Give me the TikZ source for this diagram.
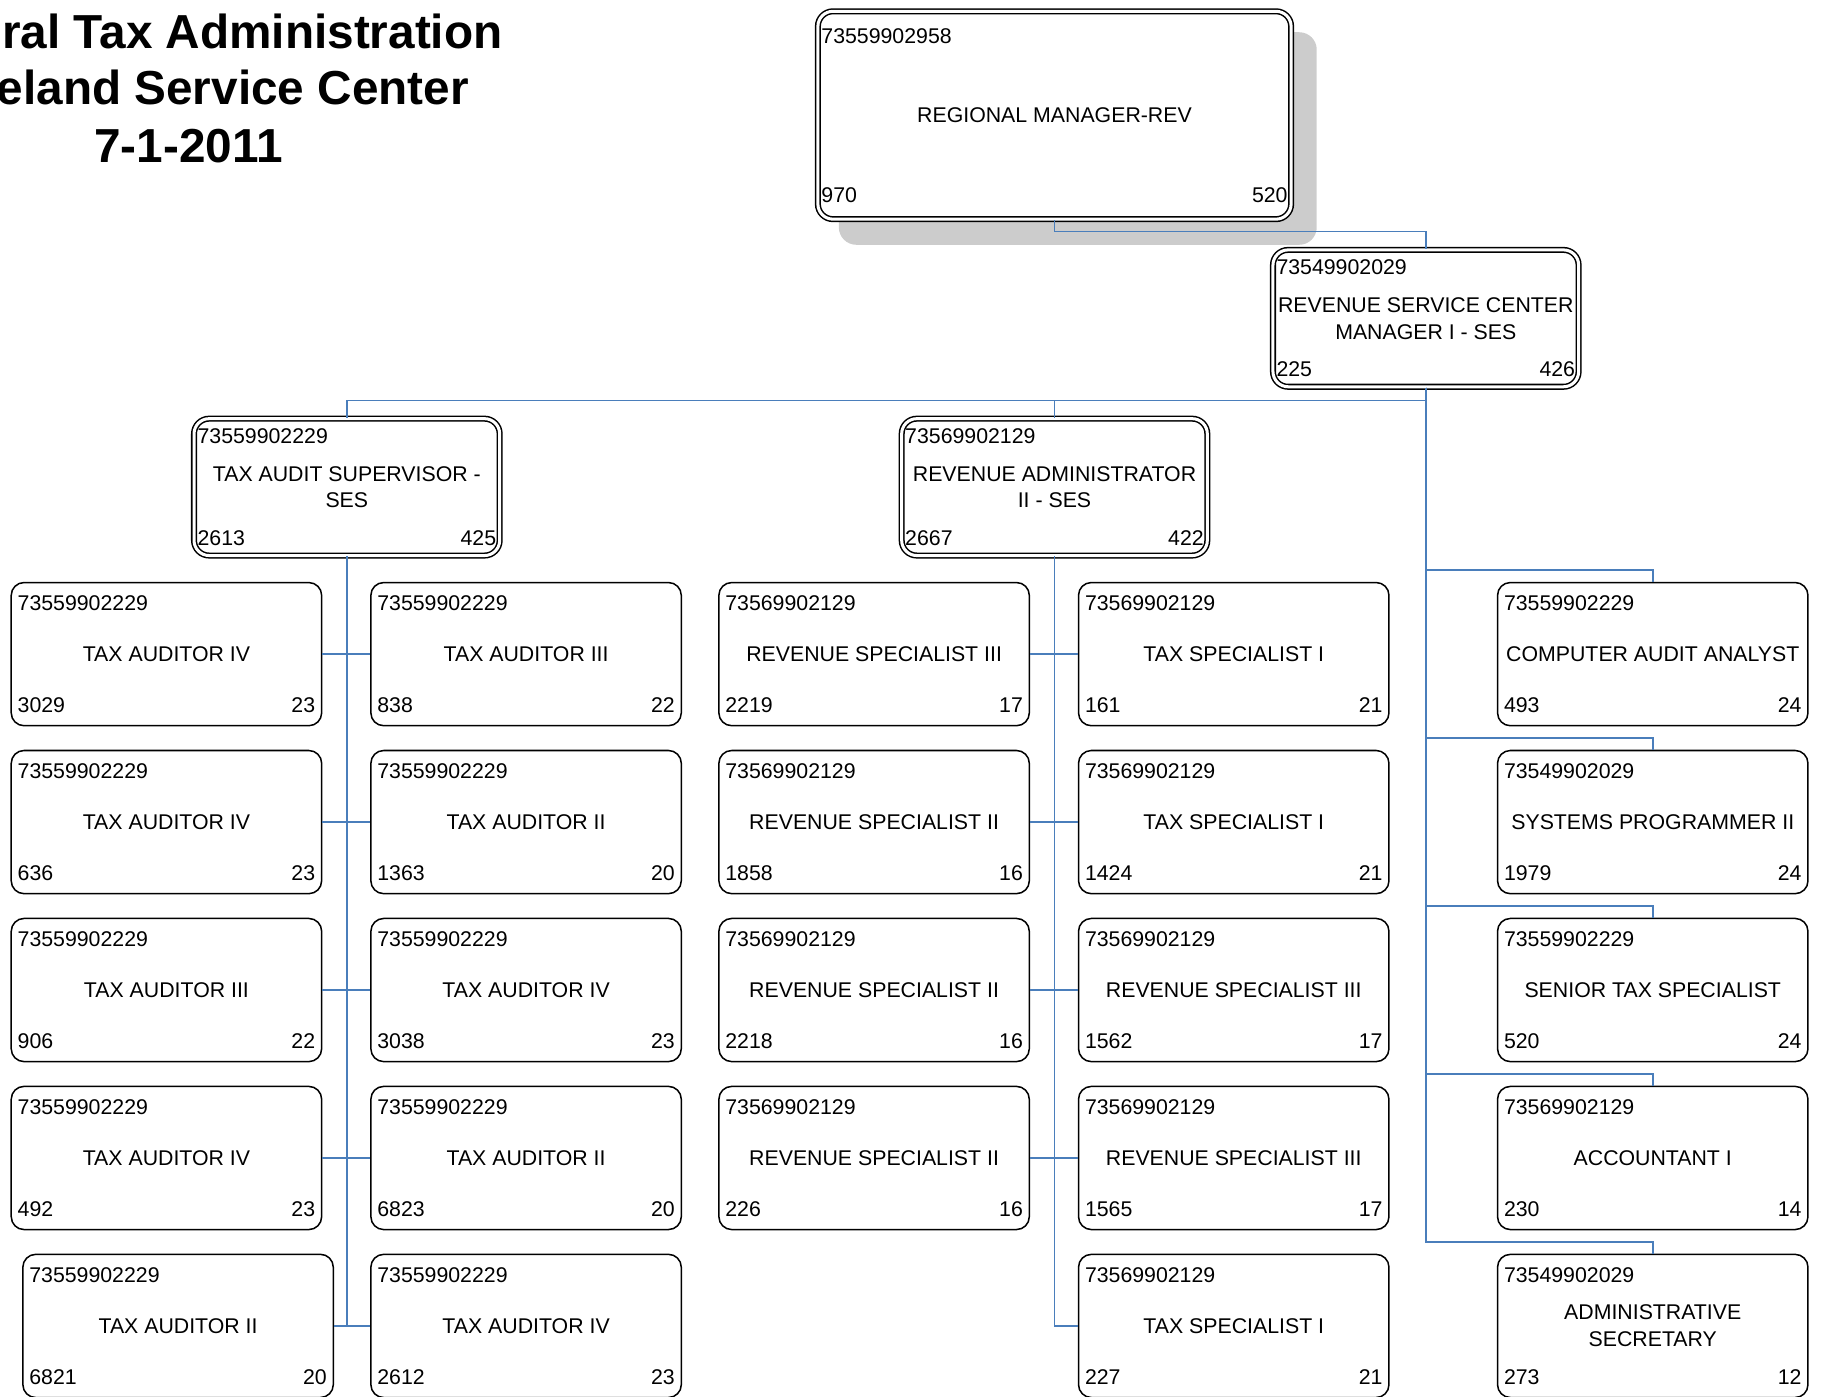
\documentclass[tikz,border=0pt]{standalone}
\usepackage{fontspec}
\setmainfont{Liberation Sans}
\usepackage{xcolor}
\usepackage{tikz}
\usetikzlibrary{positioning,shadows}

\definecolor{linkblue}{RGB}{74,126,187}
\definecolor{shadowgray}{RGB}{204,204,204}

\begin{document}
\begin{tikzpicture}[
  x=1pt,y=-1pt,
  node distance=20pt,
  every node/.style={font=\fontsize{18.3}{23}\selectfont},
  unit/.style={draw,rounded corners=11pt,line width=1.3pt,fill=white,align=center,inner sep=0pt,minimum width=266.7pt,minimum height=123pt},
  headunit/.style={unit,double,line width=1.3pt,double distance=2.6pt,rounded corners=13pt,minimum width=262.6pt,minimum height=117.6pt},
  tag/.style={inner xsep=6pt,inner ysep=11.5pt,text height=13pt,text depth=0pt},
  headtag/.style={tag,inner xsep=3.5pt,inner ysep=9pt},
  nums/.style n args={3}{label={[tag,anchor=north west]north west:#1},label={[tag,anchor=south west]south west:#2},label={[tag,anchor=south east]south east:#3}},
  headnums/.style n args={3}{label={[headtag,anchor=north west]north west:#1},label={[headtag,anchor=south west]south west:#2},label={[headtag,anchor=south east]south east:#3}},
  link/.style={draw=linkblue,line width=1.3pt},
  heading/.style={font=\fontsize{41}{49}\selectfont\bfseries,inner sep=0pt}
]
  \useasboundingbox (0,0) rectangle (1568,1200);

  % heading, left edge runs off the page
  \node[heading,anchor=base east] (ttl1) at (432,41.5) {ral Tax Administration};
  \node[heading,anchor=base east] (ttl2) at (403,90) {eland Service Center};
  \node[heading,anchor=base] (ttl3) at (162,140) {7-1-2011};

  % management
  \node[headunit,minimum width=406.6pt,minimum height=178.6pt,
    drop shadow={shadow xshift=20pt,shadow yshift=-20pt,fill=shadowgray,draw=shadowgray,line width=4pt,opacity=1},
    label={[headtag,inner ysep=15pt,anchor=north west]north west:73559902958},
    label={[headtag,inner ysep=15pt,anchor=south west]south west:970},
    label={[headtag,inner ysep=15pt,anchor=south east]south east:520}] (rm) at (906,99) {REGIONAL MANAGER-REV};
  \node[headunit,headnums={73549902029}{225}{426}] (rsc) at (1225,273.5) {REVENUE SERVICE CENTER\\MANAGER I - SES};
  \node[headunit,headnums={73559902229}{2613}{425}] (tas) at (298,418.5) {TAX AUDIT SUPERVISOR -\\SES};
  \node[headunit,headnums={73569902129}{2667}{422}] (ra) at (906,418.5) {REVENUE ADMINISTRATOR\\II - SES};

  % tax audit section
  \node[unit,nums={73559902229}{3029}{23}] (audl1) at (143,562) {TAX AUDITOR IV};
  \node[unit,nums={73559902229}{636}{23},below=of audl1] (audl2) {TAX AUDITOR IV};
  \node[unit,nums={73559902229}{906}{22},below=of audl2] (audl3) {TAX AUDITOR III};
  \node[unit,nums={73559902229}{492}{23},below=of audl3] (audl4) {TAX AUDITOR IV};
  \node[unit,nums={73559902229}{6821}{20},below=of audl4,xshift=10pt] (audl5) {TAX AUDITOR II};
  \node[unit,nums={73559902229}{838}{22}] (audr1) at (452,562) {TAX AUDITOR III};
  \node[unit,nums={73559902229}{1363}{20},below=of audr1] (audr2) {TAX AUDITOR II};
  \node[unit,nums={73559902229}{3038}{23},below=of audr2] (audr3) {TAX AUDITOR IV};
  \node[unit,nums={73559902229}{6823}{20},below=of audr3] (audr4) {TAX AUDITOR II};
  \node[unit,nums={73559902229}{2612}{23},below=of audr4] (audr5) {TAX AUDITOR IV};

  % revenue section
  \node[unit,nums={73569902129}{2219}{17}] (revspec1) at (751,562) {REVENUE SPECIALIST III};
  \node[unit,nums={73569902129}{1858}{16},below=of revspec1] (revspec2) {REVENUE SPECIALIST II};
  \node[unit,nums={73569902129}{2218}{16},below=of revspec2] (revspec3) {REVENUE SPECIALIST II};
  \node[unit,nums={73569902129}{226}{16},below=of revspec3] (revspec4) {REVENUE SPECIALIST II};
  \node[unit,nums={73569902129}{161}{21}] (taxspec1) at (1060,562) {TAX SPECIALIST I};
  \node[unit,nums={73569902129}{1424}{21},below=of taxspec1] (taxspec2) {TAX SPECIALIST I};
  \node[unit,nums={73569902129}{1562}{17},below=of taxspec2] (taxspec3) {REVENUE SPECIALIST III};
  \node[unit,nums={73569902129}{1565}{17},below=of taxspec3] (taxspec4) {REVENUE SPECIALIST III};
  \node[unit,nums={73569902129}{227}{21},below=of taxspec4] (taxspec5) {TAX SPECIALIST I};

  % staff reporting to the center manager
  \node[unit,nums={73559902229}{493}{24}] (staff1) at (1420,562) {COMPUTER AUDIT ANALYST};
  \node[unit,nums={73549902029}{1979}{24},below=of staff1] (staff2) {SYSTEMS PROGRAMMER II};
  \node[unit,nums={73559902229}{520}{24},below=of staff2] (staff3) {SENIOR TAX SPECIALIST};
  \node[unit,nums={73569902129}{230}{14},below=of staff3] (staff4) {ACCOUNTANT I};
  \node[unit,nums={73549902029}{273}{12},below=of staff4] (staff5) {ADMINISTRATIVE\\SECRETARY};

  % reporting lines
  \draw[link] (rm.south) -- ++(0,10) -| (rsc.north);
  \draw[link] (rsc.south) -- ++(0,11) -| (tas.north);
  \draw[link] (rsc.south) -- ++(0,11) -| (ra.north);
  \draw[link] (rsc.south) |- ([yshift=10pt]staff1.north) -- (staff1.north);
  \draw[link] (rsc.south) |- ([yshift=10pt]staff2.north) -- (staff2.north);
  \draw[link] (rsc.south) |- ([yshift=10pt]staff3.north) -- (staff3.north);
  \draw[link] (rsc.south) |- ([yshift=10pt]staff4.north) -- (staff4.north);
  \draw[link] (rsc.south) |- ([yshift=10pt]staff5.north) -- (staff5.north);

  \draw[link] (tas.south) |- (audl1.east);
  \draw[link] (tas.south) |- (audl2.east);
  \draw[link] (tas.south) |- (audl3.east);
  \draw[link] (tas.south) |- (audl4.east);
  \draw[link] (tas.south) |- (audl5.east);
  \draw[link] (tas.south) |- (audr1.west);
  \draw[link] (tas.south) |- (audr2.west);
  \draw[link] (tas.south) |- (audr3.west);
  \draw[link] (tas.south) |- (audr4.west);
  \draw[link] (tas.south) |- (audr5.west);

  \draw[link] (ra.south) |- (revspec1.east);
  \draw[link] (ra.south) |- (revspec2.east);
  \draw[link] (ra.south) |- (revspec3.east);
  \draw[link] (ra.south) |- (revspec4.east);
  \draw[link] (ra.south) |- (taxspec1.west);
  \draw[link] (ra.south) |- (taxspec2.west);
  \draw[link] (ra.south) |- (taxspec3.west);
  \draw[link] (ra.south) |- (taxspec4.west);
  \draw[link] (ra.south) |- (taxspec5.west);
\end{tikzpicture}
\end{document}
